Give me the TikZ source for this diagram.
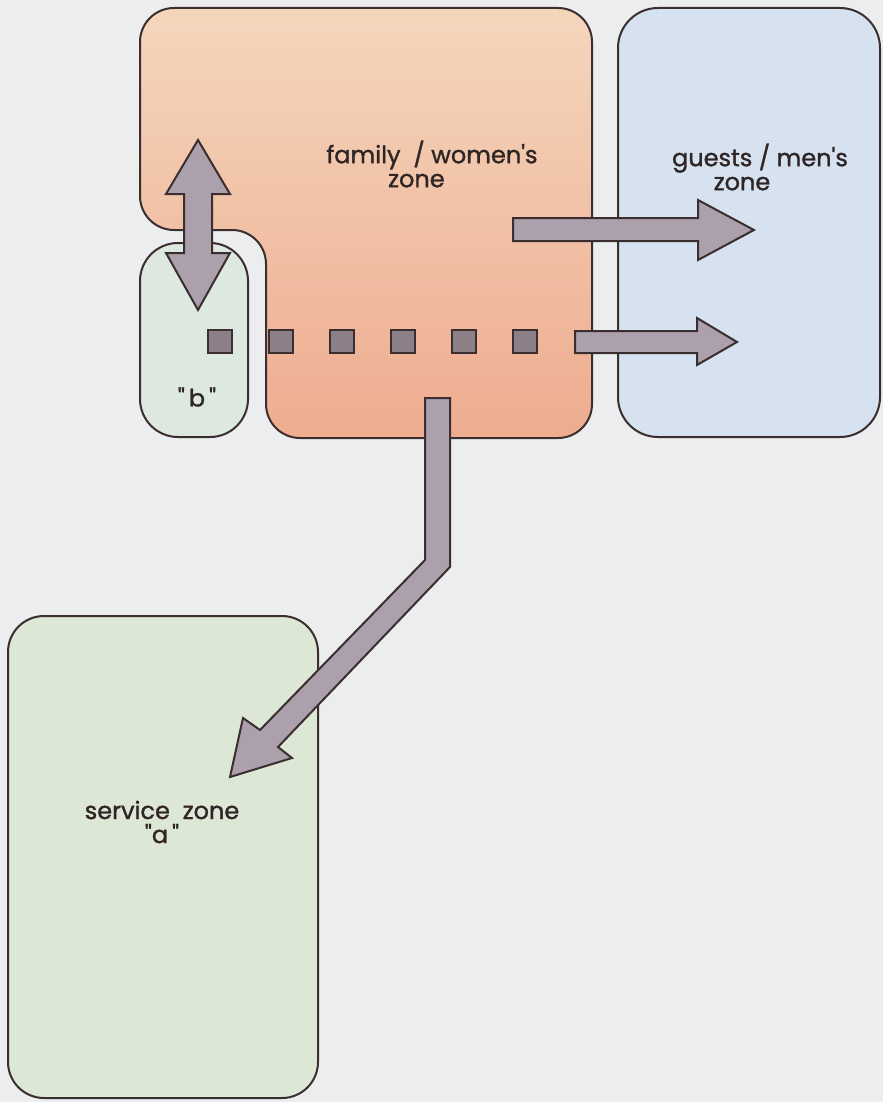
\documentclass[tikz,border=0pt]{standalone}
\usepackage{fontspec}
\setmainfont{Poppins}
\newfontfamily\lblfont[FakeBold=1.2]{Poppins}
\usepackage{tikz}
\usetikzlibrary{arrows.meta}

\definecolor{bgcol}{HTML}{EBEDEF}
\definecolor{famtop}{HTML}{F4D6BC}
\definecolor{fambot}{HTML}{EEAC90}
\definecolor{guestcol}{HTML}{D6E2F0}
\definecolor{svccol}{HTML}{DDE7D6}
\definecolor{roombcol}{HTML}{DCE8E0}
\definecolor{arrowcol}{HTML}{ABA0AC}
\definecolor{sqcol}{HTML}{8C7F88}
\definecolor{inkcol}{HTML}{3B2E2F}

\begin{document}
\begin{tikzpicture}[x=0.5pt, y=-0.5pt]

    % 样式
    \tikzset{
      zone/.style={draw=inkcol, line width=1pt, line join=round},
      blockarrow/.style={draw=inkcol, fill=arrowcol, line width=1pt, line join=miter},
      dotsq/.style={draw=inkcol, fill=sqcol, line width=1pt},
      lbl/.style={text=inkcol!80!black, align=center, inner sep=0pt,
        font=\lblfont\fontsize{12}{12}\selectfont}
    }

    % 0. 背景与画布大小
    \fill[bgcol] (0,0) rectangle (883,1102);

    % 1. 家庭 / 女眷区 (L 形)
    \draw[zone, rounded corners=17pt, top color=famtop, bottom color=fambot]
      (140,8) -- (592,8) -- (592,438) -- (266,438) -- (266,230) -- (140,230) -- cycle;

    % 2. 客人 / 男宾区
    \draw[zone, rounded corners=20pt, fill=guestcol] (618,8) rectangle (880,437);

    % 3. 小间 "b"
    \draw[zone, rounded corners=19pt, fill=roombcol] (140,243) rectangle (248,437);

    % 4. 服务区 "a"
    \draw[zone, rounded corners=18pt, fill=svccol] (8,616) rectangle (318,1098);

    % 5. 文字
    \node[lbl] (famlbl) at (432,164) {family\ \ / women's\\zone\hspace*{1.3em}};
    \node[lbl] (guestlbl) at (760,167) {guests / men's\\zone\hspace*{1.5em}};
    \node[lbl] (blbl) at (197,397) {\textquotedbl\,b\,\textquotedbl};
    \node[lbl] (svclbl) at (162,822) {service\ \ zone\\\textquotedbl a\,\textquotedbl};

    % 6. 双向箭头 (家庭区 <-> 小间)
    \draw[blockarrow] (198,140) -- (230,194) -- (212,194) -- (212,253) -- (230,253)
      -- (198,310) -- (166,253) -- (184,253) -- (184,194) -- (166,194) -- cycle;

    % 7. 通向客人区的箭头
    \draw[blockarrow] (513,218) -- (698,218) -- (698,200) -- (754,230)
      -- (698,260) -- (698,241) -- (513,241) -- cycle;
    \draw[blockarrow] (575,331) -- (697,331) -- (697,318) -- (737,342)
      -- (697,365) -- (697,353) -- (575,353) -- cycle;

    % 8. 虚线方块
    \foreach \i in {0,...,5}
      \draw[dotsq] ({208+61*\i},330) rectangle ++(24,23);

    % 9. 折线箭头 (家庭区 -> 服务区)
    \draw[blockarrow] (425,398) -- (450,398) -- (450,567) -- (278,747) -- (292,758)
      -- (230,777) -- (243,718) -- (260,730) -- (425,560) -- cycle;

\end{tikzpicture}
\end{document}
